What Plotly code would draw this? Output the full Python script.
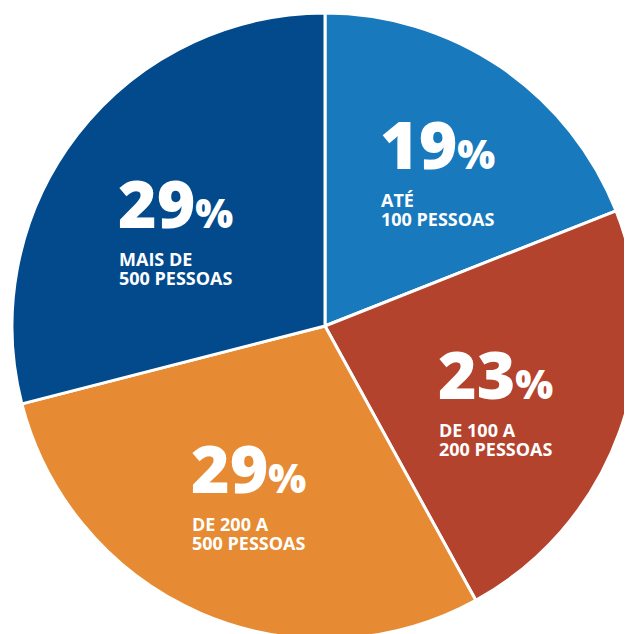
import math
import plotly.graph_objects as go

# ── Data ──────────────────────────────────────────────────────────────
labels = ["ATÉ<br>100 PESSOAS", "DE 100 A<br>200 PESSOAS",
          "DE 200 A<br>500 PESSOAS", "MAIS DE<br>500 PESSOAS"]
values = [19, 23, 29, 29]

# ── Style ─────────────────────────────────────────────────────────────
COLORS = ["#1879BC", "#B4432D", "#E68B33", "#034A8C"]
FONT = "Open Sans"
# the page body has an 8px margin; the figure is a bit larger than the
# window so the pie can run off the right / bottom edges like the original
OFF = 8
W, H = 640, 640
PIE_CX, PIE_CY, PIE_R = 325 - OFF, 326 - OFF, 313
# label block (left edge) placement: nudge (deg) from slice mid-angle,
# radius fraction of the pie radius
LABEL_NUDGE = [-12, 18, 12.3, -16.2]
LABEL_RFRAC = [0.483, 0.467, 0.724, 0.704]
SUB_SIZE = 18
SUB_BASE = 14.6   # base size sets the line pitch (1.3 em ≈ 19px)

fig = go.Figure(
    go.Pie(
        labels=labels,
        values=values,
        sort=False,
        direction="clockwise",
        rotation=0,
        marker=dict(colors=COLORS, line=dict(color="white", width=3)),
        textinfo="none",
        hoverinfo="label+percent",
        showlegend=False,
        domain=dict(
            x=[(PIE_CX - PIE_R) / W, (PIE_CX + PIE_R) / W],
            y=[1 - (PIE_CY + PIE_R) / H, 1 - (PIE_CY - PIE_R) / H],
        ),
    )
)

total = sum(values)
start = 0.0
annotations = []
for i, (lab, v) in enumerate(zip(labels, values)):
    mid = start + v / total * 360 / 2 + LABEL_NUDGE[i]
    start += v / total * 360
    rr = PIE_R * LABEL_RFRAC[i]
    px = PIE_CX + rr * math.sin(math.radians(mid))
    py = PIE_CY - rr * math.cos(math.radians(mid))
    x, y = px / W, 1 - py / H
    annotations.append(dict(
        x=x, y=y, xref="paper", yref="paper",
        xanchor="left", yanchor="bottom", showarrow=False,
        text=f"{v}<span style='font-size:40px'>%</span>",
        font=dict(family=FONT, size=66, color="white", weight=800),
        borderpad=0, yshift=-3, xshift=-3,
    ))
    sub = "<br>".join(
        f"<span style='font-size:{SUB_SIZE}px'>{line}</span>"
        for line in lab.split("<br>")
    )
    annotations.append(dict(
        x=x, y=y, xref="paper", yref="paper",
        xanchor="left", yanchor="top", showarrow=False, align="left",
        text=sub,
        font=dict(family=FONT, size=SUB_BASE, color="white", weight=700),
        borderpad=0, yshift=-1, xshift=-2,
    ))

fig.update_layout(
    width=W, height=H,
    margin=dict(l=0, r=0, t=0, b=0),
    paper_bgcolor="white",
    plot_bgcolor="white",
    annotations=annotations,
)

fig.write_html("out.html")
